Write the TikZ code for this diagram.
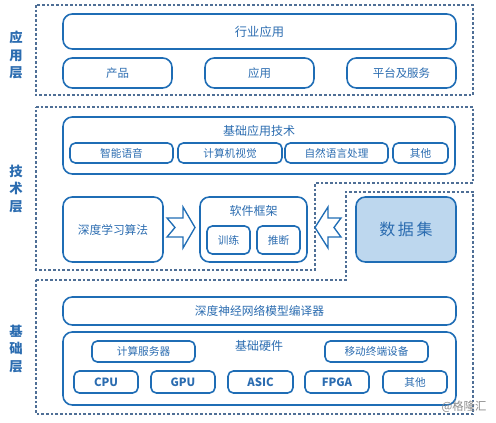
\documentclass[tikz,border=0pt]{standalone}
\usepackage{xcolor}
\usepackage{fontspec}
\setmainfont{Noto Sans CJK SC}
\usetikzlibrary{positioning}

\definecolor{boxblue}{HTML}{1F6DB5}
\definecolor{txtblue}{HTML}{2B6CB0}
\definecolor{dashblue}{HTML}{4F6F96}
\definecolor{datafill}{HTML}{BDD7EE}

\begin{document}
\begin{tikzpicture}[x=0.75pt, y=-0.75pt]
\tikzset{
  sz/.style 2 args={minimum width=#1*0.75pt, minimum height=#2*0.75pt},
  base/.style={draw=boxblue, line width=1.2pt, align=center, text=txtblue, inner sep=0pt},
  bigbox/.style={base, rounded corners=7pt},
  smallbox/.style={base, rounded corners=4pt, font=\fontsize{8}{9}\selectfont},
  hwbox/.style={base, rounded corners=4pt, font=\fontsize{8.5}{9}\selectfont\bfseries},
  title/.style={text=txtblue, font=\fontsize{9}{10}\selectfont},
  layer/.style={text=txtblue, align=center, font=\fontsize{10}{13}\selectfont\bfseries},
  region/.style={draw=dashblue, line width=0.8pt, dash pattern=on 2pt off 1.5pt},
  blockarrow/.style={draw=boxblue, line width=1pt, fill=white, line join=miter},
}
\useasboundingbox (0,0) rectangle (496,423);

% layer regions
\draw[region] (36,5) rectangle (473,95);
\draw[region] (36,107) -- (473,107) -- (473,183) -- (315,183) -- (315,270) -- (36,270) -- cycle;
\draw[region] (36,280) -- (346,280) -- (346,192) -- (473,192) -- (473,414) -- (36,414) -- cycle;

\node[layer] (l1) at (16,55) {应\\用\\层};
\node[layer] (l2) at (16,189) {技\\术\\层};
\node[layer] (l3) at (16,349) {基\\础\\层};

% application layer
\node[bigbox, sz={393}{35}, font=\fontsize{9.2}{10}\selectfont] (hy) at (259.5,31.5) {行业应用};
\node[bigbox, sz={109}{30}, font=\fontsize{8.6}{10}\selectfont] (cp) at (117.5,73) {产品};
\node[bigbox, sz={109}{30}, font=\fontsize{8.6}{10}\selectfont] (yy) at (259.5,73) {应用};
\node[bigbox, sz={109}{30}, font=\fontsize{8.6}{10}\selectfont] (pt) at (401.5,73) {平台及服务};

% technology layer
\node[bigbox, sz={392}{57}] (jc) at (259,145.5) {};
\node[title] (jct) at (259,131) {基础应用技术};
\node[smallbox, sz={103}{20}] (zn) at (121.5,153) {智能语音};
\node[smallbox, sz={104}{20}] (js) at (230,153) {计算机视觉};
\node[smallbox, sz={103}{20}] (zr) at (336.5,153) {自然语言处理};
\node[smallbox, sz={55}{20}] (qt1) at (420.5,153) {其他};

\node[bigbox, sz={100}{65}, font=\fontsize{8.8}{10}\selectfont] (sd) at (113,229.5) {深度学习算法};
\node[bigbox, sz={107}{65}] (rj) at (253.5,229.5) {};
\node[title] (rjt) at (253.5,211) {软件框架};
\node[smallbox, sz={43}{28}] (xl) at (228.5,240) {训练};
\node[smallbox, sz={43}{28}] (tdn) at (278.5,240) {推断};

\node[bigbox, fill=datafill, sz={100}{65}, font=\fontsize{12}{14}\selectfont] (sj) at (406,229.5) {数\,据\,集};

% block arrows
\draw[blockarrow] (167,218) -- (183,218) -- (183,207) -- (195,227.5) -- (183,248) -- (183,237) -- (167,237) -- (175,227.5) -- cycle;
\draw[blockarrow] (315,227.5) -- (328,207) -- (328,218) -- (341,218) -- (334,227.5) -- (341,237) -- (328,237) -- (328,248) -- cycle;

% base layer
\node[bigbox, sz={393}{28}, font=\fontsize{8.8}{10}\selectfont] (byq) at (259.5,311) {深度神经网络模型编译器};
\node[bigbox, sz={393}{73}] (yj) at (259.5,368.5) {};
\node[title] (yjt) at (259,346) {基础硬件};
\node[smallbox, sz={103}{21}] (fwq) at (143.5,351.5) {计算服务器};
\node[smallbox, sz={103}{21}] (yd) at (376.5,351.5) {移动终端设备};
\node[hwbox, sz={64}{22}] (cpu) at (106,382) {CPU};
\node[hwbox, sz={64}{22}] (gpu) at (183,382) {GPU};
\node[hwbox, sz={65}{22}] (asic) at (260.5,382) {ASIC};
\node[hwbox, sz={64}{22}] (fpga) at (337,382) {FPGA};
\node[smallbox, sz={64}{22}] (qt2) at (415,382) {其他};

\node[text=black!45, font=\fontsize{8.5}{10}\selectfont] (wm) at (464,407) {@格隆汇};
\end{tikzpicture}
\end{document}
